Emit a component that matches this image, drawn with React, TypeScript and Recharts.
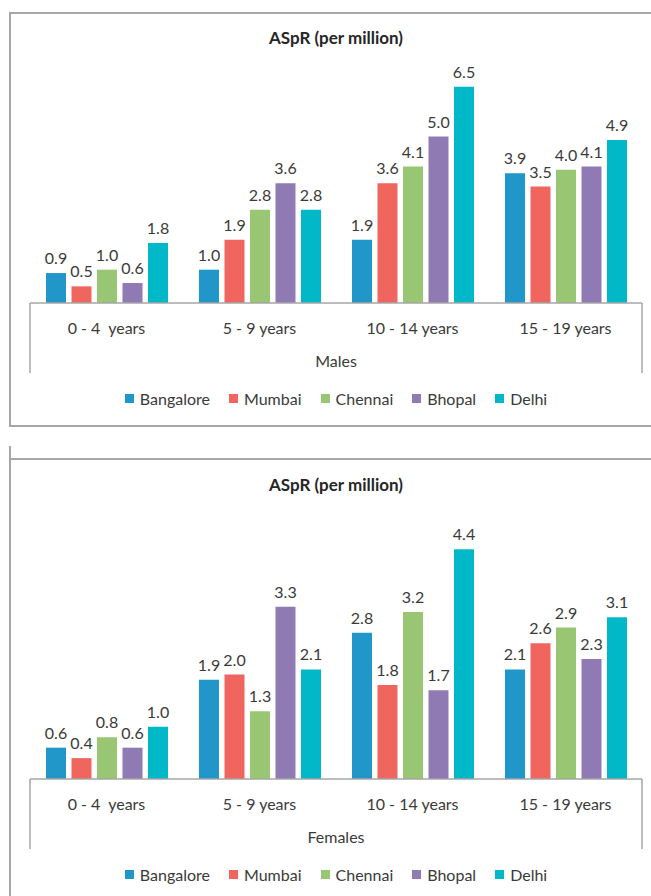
import React from 'react';
import { BarChart, Bar, XAxis, YAxis, Legend, LabelList } from 'recharts';

const CATEGORIES = ['0 - 4  years', '5 - 9 years', '10 - 14 years', '15 - 19 years'];
const CITIES = ['Bangalore', 'Mumbai', 'Chennai', 'Bhopal', 'Delhi'];
const COLORS = ['#2196C8', '#F0655E', '#98C673', '#8F7AB4', '#00B8C8'];

// males, per city, in category order
const MALES_BANGALORE = [0.9, 1.0, 1.9, 3.9];
const MALES_MUMBAI = [0.5, 1.9, 3.6, 3.5];
const MALES_CHENNAI = [1.0, 2.8, 4.1, 4.0];
const MALES_BHOPAL = [0.6, 3.6, 5.0, 4.1];
const MALES_DELHI = [1.8, 2.8, 6.5, 4.9];

// females
const FEMALES_BANGALORE = [0.6, 1.9, 2.8, 2.1];
const FEMALES_MUMBAI = [0.4, 2.0, 1.8, 2.6];
const FEMALES_CHENNAI = [0.8, 1.3, 3.2, 2.9];
const FEMALES_BHOPAL = [0.6, 3.3, 1.7, 2.3];
const FEMALES_DELHI = [1.0, 2.1, 4.4, 3.1];

const FONT = 'Lato, "Open Sans", sans-serif';
const TEXT = '#3A3A3A';
const AXIS = '#A6A6A6';

function buildRows(series: number[][]) {
  return CATEGORIES.map((category, i) => {
    const row: { [key: string]: string | number } = { category };
    CITIES.forEach((city, c) => {
      row[city] = series[c][i];
    });
    return row;
  });
}

function CategoryTick(props: any) {
  const { x, y, payload, index, visibleTicksCount } = props;
  const half = payload.offset || 0;
  return (
    <g>
      {index === 0 && (
        <line x1={x - half} x2={x - half} y1={y} y2={y + 70} stroke={AXIS} strokeWidth={1.5} />
      )}
      {index === visibleTicksCount - 1 && (
        <line x1={x + half} x2={x + half} y1={y} y2={y + 70} stroke={AXIS} strokeWidth={1.5} />
      )}
      <text
        x={x}
        y={y + 24}
        textAnchor="middle"
        dominantBaseline="central"
        style={{ whiteSpace: 'pre' }}
        fill={TEXT}
        fontSize={16}
        fontFamily={FONT}
      >
        {payload.value}
      </text>
    </g>
  );
}

function LegendRow(props: any) {
  // keep the series order, not the alphabetical one
  const items = [...(props.payload || [])].sort(
    (a: any, b: any) => CITIES.indexOf(a.value) - CITIES.indexOf(b.value)
  );
  return (
    <div
      style={{
        display: 'flex',
        justifyContent: 'center',
        alignItems: 'center',
        height: 20,
        gap: 19,
        fontFamily: FONT,
        fontSize: 16,
        color: TEXT,
      }}
    >
      {items.map((p: any) => (
        <span key={p.value} style={{ display: 'flex', alignItems: 'center' }}>
          <span style={{ width: 9, height: 9, background: p.color, marginRight: 6 }} />
          <span>{p.value}</span>
        </span>
      ))}
    </div>
  );
}

type PanelProps = {
  top: number;
  height: number;
  marginTop: number;
  marginBottom: number;
  yMax: number;
  groupLabel: string;
  titleY: number;
  series: number[][];
};

function Panel({ top, height, marginTop, marginBottom, yMax, groupLabel, titleY, series }: PanelProps) {
  const data = buildRows(series);
  return (
    <div style={{ position: 'absolute', left: 0, top, width: 651, height }}>
      <div
        style={{
          position: 'absolute',
          left: 9,
          top: 12,
          width: 700,
          height: 900,
          border: `2px solid ${AXIS}`,
          boxSizing: 'border-box',
        }}
      />
      <BarChart
        width={651}
        height={height}
        data={data}
        margin={{ top: marginTop, right: 9, bottom: marginBottom, left: 30 }}
        barGap={5.5}
        barSize={20}
      >
        <XAxis
          dataKey="category"
          tick={<CategoryTick />}
          tickLine={false}
          tickSize={0}
          tickMargin={0}
          height={85}
          interval={0}
          axisLine={{ stroke: AXIS, strokeWidth: 1.5 }}
          label={{ value: groupLabel, position: 'insideBottom', offset: 21, fill: TEXT, fontSize: 16, fontFamily: FONT }}
        />
        <YAxis hide domain={[0, yMax]} />
        <Legend content={<LegendRow />} verticalAlign="bottom" />
        {CITIES.map((city, i) => (
          <Bar key={city} dataKey={city} name={city} fill={COLORS[i]} isAnimationActive={false}>
            <LabelList
              dataKey={city}
              position="top"
              offset={9}
              formatter={(v: any) => Number(v).toFixed(1)}
              fill={TEXT}
              fontSize={16}
              fontFamily={FONT}
            />
          </Bar>
        ))}
      </BarChart>
      <div
        style={{
          position: 'absolute',
          left: 30,
          width: 612,
          top: titleY - 10,
          height: 20,
          lineHeight: '20px',
          textAlign: 'center',
          fontFamily: FONT,
          fontWeight: 700,
          fontSize: 17,
          color: '#262626',
        }}
      >
        ASpR (per million)
      </div>
    </div>
  );
}

export default function App() {
  return (
    <div
      style={{
        position: 'absolute',
        left: 0,
        top: 0,
        width: 651,
        height: 896,
        overflow: 'hidden',
        background: '#fff',
      }}
    >
      <Panel
        top={0}
        height={430}
        marginTop={70}
        marginBottom={22}
        yMax={7}
        groupLabel="Males"
        titleY={38}
        series={[MALES_BANGALORE, MALES_MUMBAI, MALES_CHENNAI, MALES_BHOPAL, MALES_DELHI]}
      />
      <div
        style={{
          position: 'absolute',
          left: 9,
          top: 425,
          width: 700,
          height: 2,
          background: AXIS,
        }}
      />
      <div style={{ position: 'absolute', left: 0, top: 427, width: 651, height: 19, background: '#fff' }} />
      <Panel
        top={446}
        height={450}
        marginTop={72}
        marginBottom={12}
        yMax={5}
        groupLabel="Females"
        titleY={39}
        series={[FEMALES_BANGALORE, FEMALES_MUMBAI, FEMALES_CHENNAI, FEMALES_BHOPAL, FEMALES_DELHI]}
      />
    </div>
  );
}
